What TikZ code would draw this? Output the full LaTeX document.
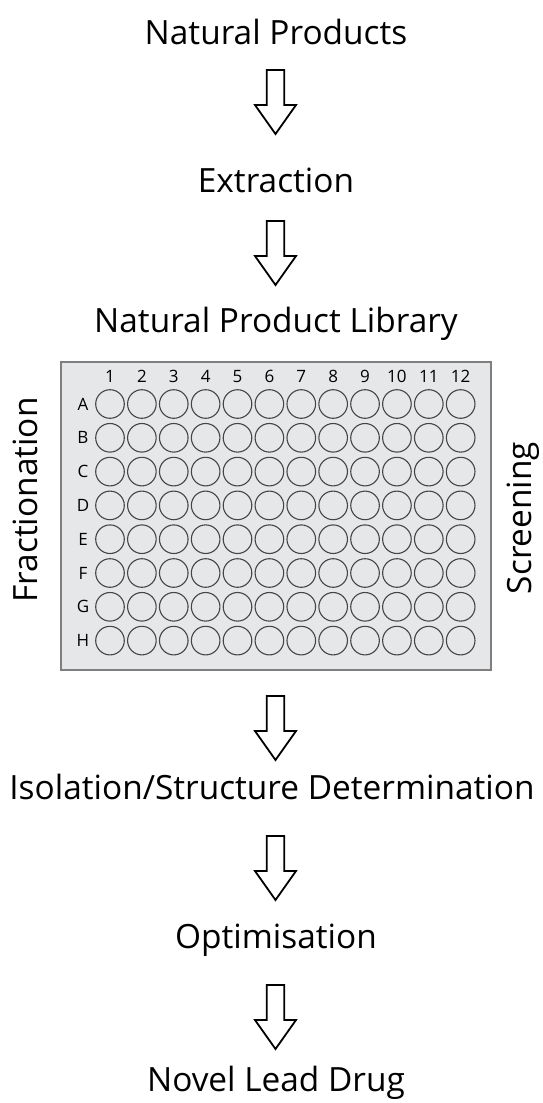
\documentclass[tikz,border=0pt]{standalone}
\usepackage{fontspec}
\setmainfont{Open Sans}
\usetikzlibrary{calc}
\definecolor{plategray}{HTML}{E6E7E8}
\definecolor{plateedge}{HTML}{7F7F7F}
\definecolor{welledge}{HTML}{454545}
\tikzset{
  lbl/.style={font=\fontsize{33.4}{38}\selectfont, anchor=base, inner sep=0pt},
  small/.style={font=\fontsize{17}{19}\selectfont, inner sep=0pt},
  blockarrow/.style={draw=black, fill=white, line width=1.8pt, line join=miter},
  well/.style={draw=welledge, line width=1.1pt, fill=plategray},
}
\begin{document}
\begin{tikzpicture}[x=1pt,y=-1pt]
\useasboundingbox (0,0) rectangle (543,1103);
% texts
\node[lbl] (t1) at (276,44) {Natural Products};
\node[lbl] (t2) at (276,192) {Extraction};
\node[lbl] (t3) at (276,332) {Natural Product Library};
\node[lbl] (t4) at (272,799) {Isolation/Structure Determination};
\node[lbl] (t5) at (276,948) {Optimisation};
\node[lbl] (t6) at (276,1091) {Novel Lead Drug};
% arrows
\coordinate (a1) at (275.5,70);
\coordinate (a2) at (275.5,221);
\coordinate (a3) at (275.5,696);
\coordinate (a4) at (275.5,836);
\coordinate (a5) at (275.5,985);
\foreach \a in {a1,a2,a3,a4,a5}{
  \draw[blockarrow, shift={(\a)}] (-8.8,0) -- (8.8,0) -- (8.8,35) -- (20.5,35) -- (0,64) -- (-20.5,35) -- (-8.8,35) -- cycle;
}
% plate
\node[draw=plateedge, fill=plategray, line width=1.5pt, minimum width=430pt, minimum height=308pt, inner sep=0pt] (plate) at (276,516) {};
\foreach \c [count=\i from 0] in {1,...,12}{
  \node[small] (col\c) at ({110+\i*31.88},376.7) {\c};
}
\foreach \r [count=\j from 0] in {A,B,C,D,E,F,G,H}{
  \node[small] (row\r) at (83,{404+\j*33.8}) {\r};
  \foreach \i in {0,...,11}{
    \draw[well] ({110+\i*31.88},{404+\j*33.8}) circle (14.3);
  }
}
\node[lbl, rotate=90, anchor=center] (frac) at (25,500) {Fractionation};
\node[lbl, rotate=90, anchor=center] (scr) at (523,518) {Screening};
\end{tikzpicture}
\end{document}
